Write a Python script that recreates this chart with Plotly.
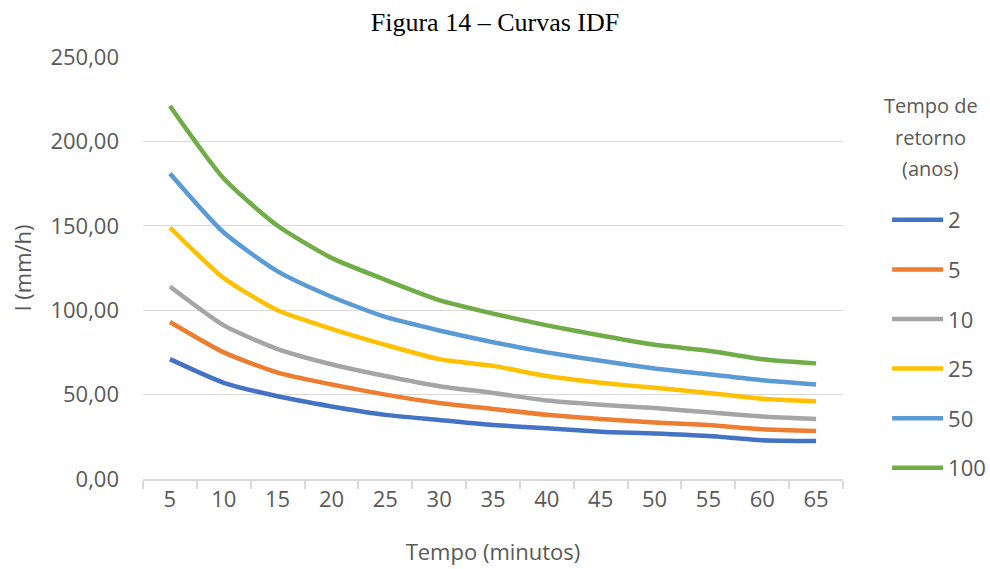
import plotly.graph_objects as go

tempo = [5, 10, 15, 20, 25, 30, 35, 40, 45, 50, 55, 60, 65]
series_names = ["2", "5", "10", "25", "50", "100"]
i_tr2 = [71, 57, 49, 43, 38, 35, 32, 30, 28, 27, 25.5, 23, 22.5]
i_tr5 = [93, 75, 63, 56, 50, 45, 41.5, 38, 35.5, 33.5, 32, 29.5, 28.5]
i_tr10 = [114, 91, 77, 68, 61, 55, 51, 46.5, 44, 42, 39.5, 37, 35.5]
i_tr25 = [149, 119, 100, 89, 79.5, 71, 67, 61, 57, 54, 51, 47.5, 46]
i_tr50 = [181, 146, 123, 108, 96, 88, 81, 75, 70, 65.5, 62, 58.5, 56]
i_tr100 = [221, 178, 150, 131, 118, 106, 98, 91, 85, 79.5, 76, 71, 68.5]
colors = ["#4472C4", "#ED7D31", "#A5A5A5", "#FFC000", "#5B9BD5", "#70AD47"]
y_ticks = [0, 50, 100, 150, 200, 250]
y_ticktext = ["0,00", "50,00", "100,00", "150,00", "200,00", "250,00"]
legend_title_lines = ["Tempo de", "retorno", "(anos)"]

all_series = [i_tr2, i_tr5, i_tr10, i_tr25, i_tr50, i_tr100]

fig = go.Figure()
x_cat = [str(t) for t in tempo]
for name, vals, col in zip(series_names, all_series, colors):
    fig.add_trace(go.Scatter(
        x=x_cat, y=vals, name=name, mode="lines",
        line=dict(color=col, width=4.5, shape="spline", smoothing=0.6),
        legendgroup=name,
    ))

font_fam = "Open Sans, sans-serif"
gray = "#595959"

# legend title as centered text lines
for k, txt in enumerate(legend_title_lines):
    fig.add_annotation(text=txt, xref="paper", yref="paper",
                       x=1.1257, y=0.8839 - k * 0.0735,
                       xanchor="center", yanchor="middle", showarrow=False,
                       font=dict(family=font_fam, size=20, color=gray))

fig.update_layout(
    width=990, height=569,
    margin=dict(l=143, r=147, t=57, b=90, autoexpand=False),
    paper_bgcolor="white", plot_bgcolor="white",
    title=dict(text="Figura 14 – Curvas IDF", x=0.5, xanchor="center",
               y=1 - 22 / 569, yanchor="middle",
               font=dict(family="Liberation Serif, serif", size=26, color="black")),
    xaxis=dict(type="category", range=[-0.5, 12.5], showgrid=False,
               showline=True, linecolor="#D9D9D9", linewidth=1.5,
               ticks="outside", tickson="boundaries", ticklen=8, tickcolor="#D9D9D9", tickwidth=1.5,
               tickfont=dict(family=font_fam, size=22, color=gray),
               title=dict(text="Tempo (minutos)", font=dict(family=font_fam, size=22, color=gray), standoff=32)),
    yaxis=dict(range=[0, 250], tickvals=y_ticks, ticktext=y_ticktext,
               showgrid=True, gridcolor="#D9D9D9", gridwidth=1.3,
               zeroline=False, showline=False, ticks="", ticklabelstandoff=23,
               tickfont=dict(family=font_fam, size=22, color=gray),
               title=dict(text="I (mm/h)", font=dict(family=font_fam, size=22, color=gray), standoff=12)),
    legend=dict(x=1.063, xanchor="left", y=0.6635, yanchor="top",
                font=dict(family=font_fam, size=22, color=gray),
                tracegroupgap=18, itemwidth=51),
    showlegend=True,
)

fig.write_html("out.html")
